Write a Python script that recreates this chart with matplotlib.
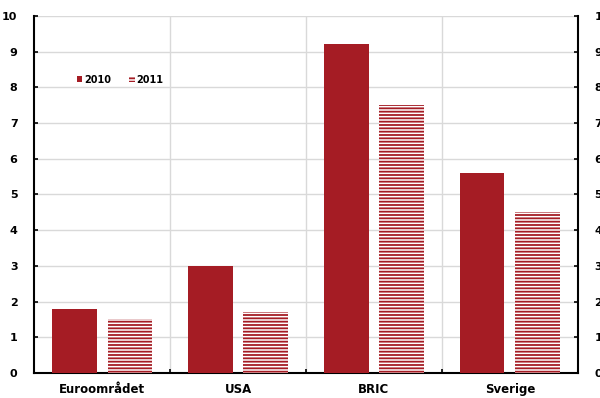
import matplotlib.pyplot as plt
import numpy as np
from matplotlib.patches import Patch

categories = ['Euroområdet', 'USA', 'BRIC', 'Sverige']
v2010 = [1.8, 3.0, 9.2, 5.6]
v2011 = [1.5, 1.7, 7.5, 4.5]

red = '#a51c24'
plt.rcParams['hatch.linewidth'] = 1.3
plt.rcParams['font.weight'] = 'bold'

fig = plt.figure(figsize=(6, 3.98), dpi=100)
ax = fig.add_axes([0.057, 0.063, 0.906, 0.897])

x = np.arange(len(categories))
w = 0.33
ax.bar(x - 0.205, v2010, w, color=red, zorder=3, label='2010')
ax.bar(x + 0.205, v2011, w, color='white', edgecolor=red, hatch='-----',
       linewidth=0, zorder=3, label='2011')

ax.set_xlim(-0.5, 3.5)
ax.set_ylim(0, 10)
ax.set_yticks(range(11))
ax.set_xticks(x)
ax.set_xticklabels(categories, fontsize=8.5, fontweight='bold')
ax.tick_params(axis='x', length=0, pad=7)
ax.set_xticks([0.5, 1.5, 2.5], minor=True)
ax.tick_params(axis='x', which='minor', direction='in', length=3, width=1.2)
ax.tick_params(axis='y', direction='in', length=3, width=1.2, labelsize=8,
               left=True, right=True, labelleft=True, labelright=True, pad=12)

ax.grid(axis='y', color='#d9d9d9', lw=1, zorder=0)
ax.grid(axis='x', which='minor', color='#d9d9d9', lw=1, zorder=0)

ax.spines['top'].set_visible(False)
for s in ['left', 'right', 'bottom']:
    ax.spines[s].set_linewidth(1.5)

handles = [Patch(facecolor=red, label='2010'),
           Patch(facecolor='white', edgecolor=red, hatch='-----', lw=0, label='2011')]
ax.legend(handles=handles, loc='upper left', bbox_to_anchor=(0.062, 0.86),
          frameon=False, ncol=2, handlelength=0.6, handleheight=0.6,
          handletextpad=0.2, columnspacing=1.8, prop={'weight': 'bold', 'size': 7})

fig.savefig('out.png', dpi=100)
